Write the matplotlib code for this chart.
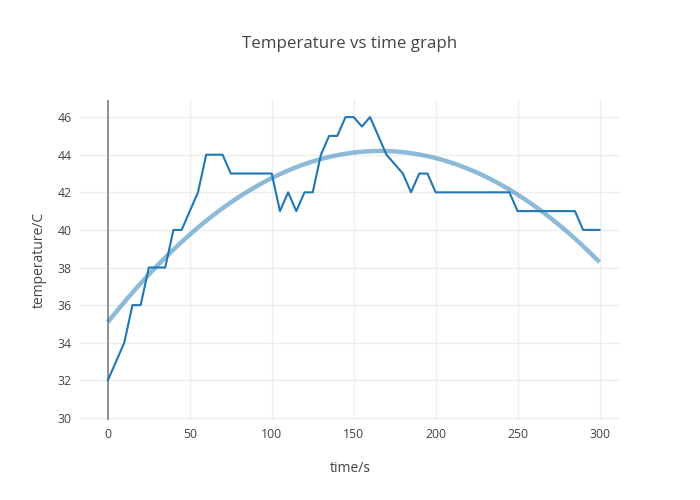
from matplotlib import pyplot as plt
import numpy as np

time_s = [0, 5, 10, 15, 20, 25, 30, 35, 40, 45, 50, 55, 60, 65, 70, 75, 80, 85, 90, 95,
          100, 105, 110, 115, 120, 125, 130, 135, 140, 145, 150, 155, 160, 165, 170, 175,
          180, 185, 190, 195, 200, 205, 210, 215, 220, 225, 230, 235, 240, 245, 250, 255,
          260, 265, 270, 275, 280, 285, 290, 295, 300]
temp_c = [32, 33, 34, 36, 36, 38, 38, 38, 40, 40, 41, 42, 44, 44, 44, 43, 43, 43, 43, 43,
          43, 41, 42, 41, 42, 42, 44, 45, 45, 46, 46, 45.5, 46, 45, 44, 43.5,
          43, 42, 43, 43, 42, 42, 42, 42, 42, 42, 42, 42, 42, 42, 41, 41,
          41, 41, 41, 41, 41, 41, 40, 40, 40]
y_ticks = [30, 32, 34, 36, 38, 40, 42, 44, 46]
x_ticks = [0, 50, 100, 150, 200, 250, 300]

plt.rcParams['font.family'] = ['Open Sans', 'DejaVu Sans']

fig = plt.figure(figsize=(7, 5), dpi=100)
ax = fig.add_axes([80 / 700, 80 / 500, 540 / 700, 320 / 500])

# quadratic trend fitted to the data
coef = np.polyfit(time_s, temp_c, 2)
t_fit = np.linspace(min(time_s), max(time_s), 200)
ax.plot(t_fit, np.polyval(coef, t_fit), color='#1f77b4', alpha=0.5, linewidth=3.2,
        solid_capstyle='butt', zorder=3)
ax.plot(time_s, temp_c, color='#1f77b4', linewidth=1.5, zorder=4)

ax.axvline(0, color='#888888', linewidth=1.3, zorder=2)

ax.set_xlim(-17, 312.5)
ax.set_ylim(29.89, 46.91)
ax.set_xticks(x_ticks)
ax.set_yticks(y_ticks)
ax.grid(True, color='#eeeeee', linewidth=1)
ax.set_axisbelow(True)
for s in ax.spines.values():
    s.set_visible(False)
ax.tick_params(length=0, labelsize=8.8, colors='#444444', pad=6)

ax.set_xlabel('time/s', fontsize=10, color='#444444', labelpad=14)
ax.set_ylabel('temperature/C', fontsize=10, color='#444444', labelpad=8)
fig.text(0.5, 1 - 44 / 500, 'Temperature vs time graph', ha='center', va='center',
         fontsize=12.2, color='#444444')

plt.savefig('out.png', dpi=100)
